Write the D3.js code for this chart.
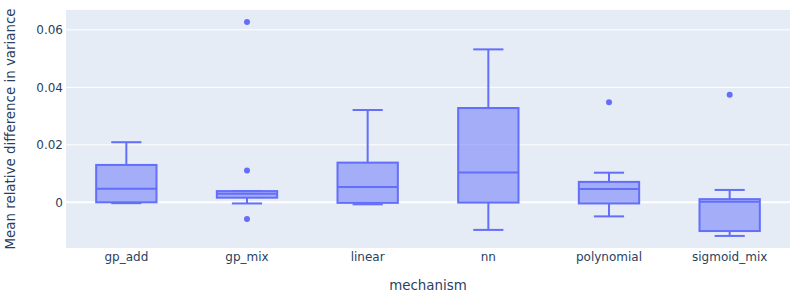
<!DOCTYPE html>
<html>
<head>
<meta charset="utf-8">
<script src="https://cdn.jsdelivr.net/npm/d3@7"></script>
<style>
  body { margin: 0; background: #fff; }
  text { font-family: "DejaVu Sans", verdana, arial, sans-serif; fill: #2a3f5f; }
</style>
</head>
<body>
<svg></svg>
<script>
// box stats
let mechanisms = ["gp_add", "gp_mix", "linear", "nn", "polynomial", "sigmoid_mix"]
let lowerFence = [-0.0003, -0.0004, -0.0007, -0.0096, -0.0049, -0.0117]
let q1Values = [0.0000, 0.0016, -0.0002, -0.0001, -0.0004, -0.0100]
let medians = [0.0047, 0.0030, 0.0053, 0.0104, 0.0046, 0.0002]
let q3Values = [0.0130, 0.0039, 0.0138, 0.0328, 0.0071, 0.0011]
let upperFence = [0.0209, 0.0039, 0.0321, 0.0532, 0.0103, 0.0043]
let outliers = [[], [0.0627, 0.0111, -0.0058], [], [], [0.0348], [0.0374]]
let yTicks = [0, 0.02, 0.04, 0.06]

let width = 800
let height = 300
let plotLeft = 66, plotRight = 790, plotTop = 10, plotBottom = 248
let color = "#636efa"

let svg = d3.select("svg").attr("width", width).attr("height", height)

let xScale = d3.scaleBand().domain(mechanisms).range([plotLeft, plotRight])
let yScale = d3.scaleLinear().domain([-0.0159, 0.0669]).range([plotBottom, plotTop])

// background
svg.append("rect")
    .attr("x", plotLeft).attr("y", plotTop)
    .attr("width", plotRight - plotLeft).attr("height", plotBottom - plotTop)
    .attr("fill", "#e5ecf6")

// grid lines
svg.append("g").selectAll("line")
    .data(yTicks)
    .enter()
    .append("line")
    .attr("x1", plotLeft).attr("x2", plotRight)
    .attr("y1", d => yScale(d)).attr("y2", d => yScale(d))
    .attr("stroke", "#fff")
    .attr("stroke-width", d => d === 0 ? 2 : 1)

// y axis labels
let yAxis = d3.axisLeft(yScale).tickValues(yTicks).tickSize(0).tickPadding(3)
    .tickFormat(d => d === 0 ? "0" : d3.format(".2f")(d))
let yg = svg.append("g").attr("transform", "translate(" + plotLeft + ",0)").call(yAxis)
yg.select(".domain").remove()
yg.selectAll("text").style("font-size", "12px").attr("fill", "#2a3f5f")

// x axis labels
let xAxis = d3.axisBottom(xScale).tickSize(0).tickPadding(4)
let xg = svg.append("g").attr("transform", "translate(0," + plotBottom + ")").call(xAxis)
xg.select(".domain").remove()
xg.selectAll("text").style("font-size", "12px").attr("fill", "#2a3f5f")

// axis titles
svg.append("text")
    .attr("x", (plotLeft + plotRight) / 2).attr("y", 290)
    .attr("text-anchor", "middle")
    .style("font-size", "13.4px")
    .text("mechanism")

svg.append("text")
    .attr("transform", "translate(15," + ((plotTop + plotBottom) / 2) + ") rotate(-90)")
    .attr("text-anchor", "middle")
    .style("font-size", "13.4px")
    .text("Mean relative difference in variance")

// boxes
let boxW = xScale.bandwidth() / 2
let capW = boxW / 2
let boxes = svg.append("g").selectAll("g")
    .data(mechanisms)
    .enter()
    .append("g")

boxes.each(function (name, i) {
    let g = d3.select(this)
    let cx = xScale(name) + xScale.bandwidth() / 2

    // whiskers
    g.append("line")
        .attr("x1", cx).attr("x2", cx)
        .attr("y1", yScale(q3Values[i])).attr("y2", yScale(upperFence[i]))
        .attr("stroke", color).attr("stroke-width", 2)
    g.append("line")
        .attr("x1", cx).attr("x2", cx)
        .attr("y1", yScale(q1Values[i])).attr("y2", yScale(lowerFence[i]))
        .attr("stroke", color).attr("stroke-width", 2)
    g.append("line")
        .attr("x1", cx - capW / 2).attr("x2", cx + capW / 2)
        .attr("y1", yScale(upperFence[i])).attr("y2", yScale(upperFence[i]))
        .attr("stroke", color).attr("stroke-width", 2)
    g.append("line")
        .attr("x1", cx - capW / 2).attr("x2", cx + capW / 2)
        .attr("y1", yScale(lowerFence[i])).attr("y2", yScale(lowerFence[i]))
        .attr("stroke", color).attr("stroke-width", 2)

    // box
    g.append("rect")
        .attr("x", cx - boxW / 2)
        .attr("y", yScale(q3Values[i]))
        .attr("width", boxW)
        .attr("height", yScale(q1Values[i]) - yScale(q3Values[i]))
        .attr("fill", color).attr("fill-opacity", 0.5)
        .attr("stroke", color).attr("stroke-width", 2)

    // median
    g.append("line")
        .attr("x1", cx - boxW / 2).attr("x2", cx + boxW / 2)
        .attr("y1", yScale(medians[i])).attr("y2", yScale(medians[i]))
        .attr("stroke", color).attr("stroke-width", 2)

    // outliers
    g.selectAll("circle")
        .data(outliers[i])
        .enter()
        .append("circle")
        .attr("cx", cx)
        .attr("cy", d => yScale(d))
        .attr("r", 3)
        .attr("fill", color)
})
</script>
</body>
</html>
